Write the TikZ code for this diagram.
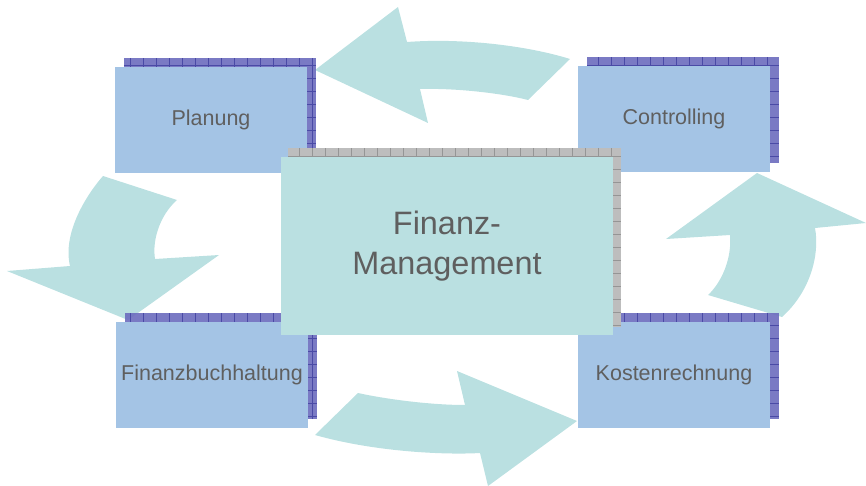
\documentclass[tikz,border=0pt]{standalone}
\usepackage{fontspec}
\setmainfont{Liberation Sans}

\definecolor{boxblue}{HTML}{A4C4E5}
\definecolor{mintfill}{HTML}{BAE0E1}
\definecolor{shadeblue}{HTML}{6C6CBE}
\definecolor{shadeline}{HTML}{4A4AA6}
\definecolor{shadegray}{HTML}{BDBDBD}
\definecolor{shadegrayline}{HTML}{959595}
\definecolor{labelgray}{HTML}{5F5F5F}

\pgfdeclarelayer{back}
\pgfsetlayers{back,main}

\begin{document}
\begin{tikzpicture}[x=1pt, y=-1pt,
    task/.style={fill=boxblue, minimum width=192pt, minimum height=106pt,
      inner sep=0pt, text=labelgray, font=\fontsize{21.5}{26}\selectfont},
    hub/.style={fill=mintfill, minimum width=332pt, minimum height=178pt,
      align=center, text=labelgray, font=\fontsize{32.4}{40}\selectfont},
    cyclearrow/.style={fill=mintfill},
    gridlines/.style={line width=0.7pt, y=1pt, xstep=13pt, ystep=13pt}]
    \useasboundingbox (0, 0) rectangle (866, 486);

    % Steps of the cycle
    \node [task] (plan) at (211, 120) {Planung};
    \node [task] (ctrl) at (674, 119) {Controlling};
    \node [task] (fibu) at (212, 375) {Finanzbuchhaltung};
    \node [task] (kost) at (674, 375) {Kostenrechnung};

    \begin{pgfonlayer}{back}
      % Curved arrows
      \fill [cyclearrow] (315, 70) -- (398, 7) -- (407, 42)
        .. controls (460, 38) and (525, 45) .. (570, 59) -- (528, 100)
        .. controls (505, 94) and (460, 88) .. (420, 89) -- (428, 123) -- cycle;
      \fill [cyclearrow] (103, 176) .. controls (88, 193) and (62, 232) .. (70, 266)
        -- (7, 271) -- (128, 320) -- (219, 255) -- (155, 259)
        .. controls (152, 240) and (160, 215) .. (177, 200) -- cycle;
      \fill [cyclearrow] (315, 435) -- (358, 393)
        .. controls (385, 399) and (430, 405) .. (465, 405) -- (457, 371)
        -- (577, 421) -- (488, 486) -- (480, 453)
        .. controls (445, 455) and (375, 452) .. (315, 435) -- cycle;
      \fill [cyclearrow] (757, 173) -- (866, 223) -- (815, 228)
        .. controls (820, 255) and (810, 292) .. (782, 317) -- (708, 295)
        .. controls (722, 282) and (732, 258) .. (730, 235) -- (666, 239) -- cycle;

      % Shadows of the steps
      \foreach \n in {plan, ctrl, fibu, kost} {
        \begin{scope}
          \clip ([shift={(9, -9)}]\n.south west) rectangle ([shift={(9, -9)}]\n.north east);
          \fill [shadeblue, opacity=0.9] ([shift={(9, -9)}]\n.south west) rectangle ([shift={(9, -9)}]\n.north east);
          \draw [shadeline, gridlines] ([shift={(9pt, 9pt)}]\n.south west) grid ([shift={(9pt, 9pt)}]\n.north east);
        \end{scope}
      }
    \end{pgfonlayer}

    % Centre box
    \coordinate (mid) at (447, 246);
    \begin{scope}
      \clip ([shift={(-159, -98)}]mid) rectangle ([shift={(174, 81)}]mid);
      \fill [shadegray] ([shift={(-159, -98)}]mid) rectangle ([shift={(174, 81)}]mid);
      \draw [shadegrayline, gridlines] ([shift={(-159pt, 98pt)}]mid) grid ([shift={(174pt, -81pt)}]mid);
    \end{scope}
    \node [hub] (fm) at (mid) {Finanz-\\Management};
  \end{tikzpicture}
\end{document}
